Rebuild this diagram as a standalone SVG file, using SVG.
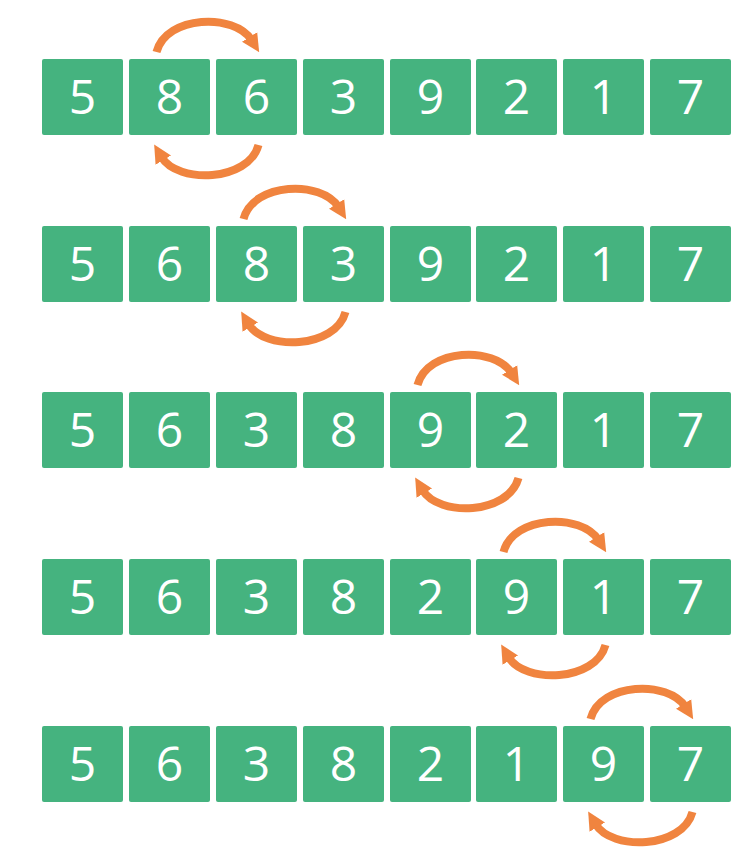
<svg xmlns="http://www.w3.org/2000/svg" width="752" height="855" viewBox="0 0 752 855">
<style>
.b{fill:#45b37f}
.t{fill:#fff;font-family:"Open Sans","DejaVu Sans",sans-serif;font-size:48px;text-anchor:middle}
.a{fill:none;stroke:#f0843f;stroke-width:8;stroke-linecap:butt;marker-end:url(#ah)}
</style>
<defs>
<marker id="ah" viewBox="0 0 10 10" refX="2" refY="5" markerWidth="18" markerHeight="19" markerUnits="userSpaceOnUse" orient="auto">
<path d="M0,0 L10,5 L0,10 z" fill="#f0843f"/>
</marker>
</defs>
<rect width="752" height="855" fill="#fff"/>
<g id="row1">
<g id="r1c0"><rect class="b" x="42" y="59" width="81" height="76" rx="2"/><text class="t" x="82.5" y="114">5</text></g>
<g id="r1c1"><rect class="b" x="129" y="59" width="81" height="76" rx="2"/><text class="t" x="169.5" y="114">8</text></g>
<g id="r1c2"><rect class="b" x="216" y="59" width="81" height="76" rx="2"/><text class="t" x="256.5" y="114">6</text></g>
<g id="r1c3"><rect class="b" x="303" y="59" width="81" height="76" rx="2"/><text class="t" x="343.5" y="114">3</text></g>
<g id="r1c4"><rect class="b" x="390" y="59" width="81" height="76" rx="2"/><text class="t" x="430.5" y="114">9</text></g>
<g id="r1c5"><rect class="b" x="476" y="59" width="81" height="76" rx="2"/><text class="t" x="516.5" y="114">2</text></g>
<g id="r1c6"><rect class="b" x="563" y="59" width="81" height="76" rx="2"/><text class="t" x="603.5" y="114">1</text></g>
<g id="r1c7"><rect class="b" x="650" y="59" width="81" height="76" rx="2"/><text class="t" x="690.5" y="114">7</text></g>
</g>
<g id="row2">
<g id="r2c0"><rect class="b" x="42" y="226" width="81" height="76" rx="2"/><text class="t" x="82.5" y="281">5</text></g>
<g id="r2c1"><rect class="b" x="129" y="226" width="81" height="76" rx="2"/><text class="t" x="169.5" y="281">6</text></g>
<g id="r2c2"><rect class="b" x="216" y="226" width="81" height="76" rx="2"/><text class="t" x="256.5" y="281">8</text></g>
<g id="r2c3"><rect class="b" x="303" y="226" width="81" height="76" rx="2"/><text class="t" x="343.5" y="281">3</text></g>
<g id="r2c4"><rect class="b" x="390" y="226" width="81" height="76" rx="2"/><text class="t" x="430.5" y="281">9</text></g>
<g id="r2c5"><rect class="b" x="476" y="226" width="81" height="76" rx="2"/><text class="t" x="516.5" y="281">2</text></g>
<g id="r2c6"><rect class="b" x="563" y="226" width="81" height="76" rx="2"/><text class="t" x="603.5" y="281">1</text></g>
<g id="r2c7"><rect class="b" x="650" y="226" width="81" height="76" rx="2"/><text class="t" x="690.5" y="281">7</text></g>
</g>
<g id="row3">
<g id="r3c0"><rect class="b" x="42" y="392" width="81" height="76" rx="2"/><text class="t" x="82.5" y="447">5</text></g>
<g id="r3c1"><rect class="b" x="129" y="392" width="81" height="76" rx="2"/><text class="t" x="169.5" y="447">6</text></g>
<g id="r3c2"><rect class="b" x="216" y="392" width="81" height="76" rx="2"/><text class="t" x="256.5" y="447">3</text></g>
<g id="r3c3"><rect class="b" x="303" y="392" width="81" height="76" rx="2"/><text class="t" x="343.5" y="447">8</text></g>
<g id="r3c4"><rect class="b" x="390" y="392" width="81" height="76" rx="2"/><text class="t" x="430.5" y="447">9</text></g>
<g id="r3c5"><rect class="b" x="476" y="392" width="81" height="76" rx="2"/><text class="t" x="516.5" y="447">2</text></g>
<g id="r3c6"><rect class="b" x="563" y="392" width="81" height="76" rx="2"/><text class="t" x="603.5" y="447">1</text></g>
<g id="r3c7"><rect class="b" x="650" y="392" width="81" height="76" rx="2"/><text class="t" x="690.5" y="447">7</text></g>
</g>
<g id="row4">
<g id="r4c0"><rect class="b" x="42" y="559" width="81" height="76" rx="2"/><text class="t" x="82.5" y="614">5</text></g>
<g id="r4c1"><rect class="b" x="129" y="559" width="81" height="76" rx="2"/><text class="t" x="169.5" y="614">6</text></g>
<g id="r4c2"><rect class="b" x="216" y="559" width="81" height="76" rx="2"/><text class="t" x="256.5" y="614">3</text></g>
<g id="r4c3"><rect class="b" x="303" y="559" width="81" height="76" rx="2"/><text class="t" x="343.5" y="614">8</text></g>
<g id="r4c4"><rect class="b" x="390" y="559" width="81" height="76" rx="2"/><text class="t" x="430.5" y="614">2</text></g>
<g id="r4c5"><rect class="b" x="476" y="559" width="81" height="76" rx="2"/><text class="t" x="516.5" y="614">9</text></g>
<g id="r4c6"><rect class="b" x="563" y="559" width="81" height="76" rx="2"/><text class="t" x="603.5" y="614">1</text></g>
<g id="r4c7"><rect class="b" x="650" y="559" width="81" height="76" rx="2"/><text class="t" x="690.5" y="614">7</text></g>
</g>
<g id="row5">
<g id="r5c0"><rect class="b" x="42" y="726" width="81" height="76" rx="2"/><text class="t" x="82.5" y="781">5</text></g>
<g id="r5c1"><rect class="b" x="129" y="726" width="81" height="76" rx="2"/><text class="t" x="169.5" y="781">6</text></g>
<g id="r5c2"><rect class="b" x="216" y="726" width="81" height="76" rx="2"/><text class="t" x="256.5" y="781">3</text></g>
<g id="r5c3"><rect class="b" x="303" y="726" width="81" height="76" rx="2"/><text class="t" x="343.5" y="781">8</text></g>
<g id="r5c4"><rect class="b" x="390" y="726" width="81" height="76" rx="2"/><text class="t" x="430.5" y="781">2</text></g>
<g id="r5c5"><rect class="b" x="476" y="726" width="81" height="76" rx="2"/><text class="t" x="516.5" y="781">1</text></g>
<g id="r5c6"><rect class="b" x="563" y="726" width="81" height="76" rx="2"/><text class="t" x="603.5" y="781">9</text></g>
<g id="r5c7"><rect class="b" x="650" y="726" width="81" height="76" rx="2"/><text class="t" x="690.5" y="781">7</text></g>
</g>
<g id="connectors">
<path class="a" d="M156.5,52 C166.5,15 234.5,13 251.5,40"/>
<path class="a" d="M258.5,145 C248.5,182 177.5,184 161.5,157"/>
<path class="a" d="M243.5,219 C253.5,182 321.5,180 338.5,207"/>
<path class="a" d="M345.5,312 C335.5,349 264.5,351 248.5,324"/>
<path class="a" d="M417.5,385 C427.5,348 494.5,346 511.5,373"/>
<path class="a" d="M518.5,478 C508.5,515 438.5,517 422.5,490"/>
<path class="a" d="M503.5,552 C513.5,515 581.5,513 598.5,540"/>
<path class="a" d="M605.5,645 C595.5,682 524.5,684 508.5,657"/>
<path class="a" d="M590.5,719 C600.5,682 668.5,680 685.5,707"/>
<path class="a" d="M692.5,812 C682.5,849 611.5,851 595.5,824"/>
</g>
</svg>
